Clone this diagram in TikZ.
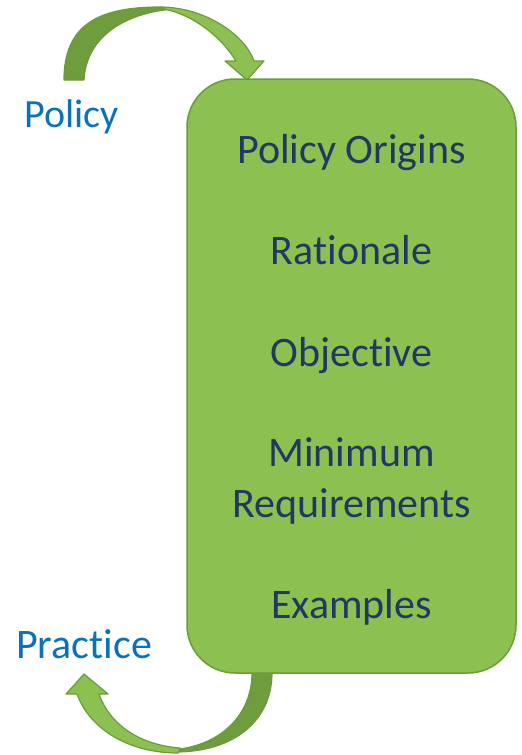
\documentclass[tikz,border=0pt]{standalone}
\usepackage{fontspec}
\setmainfont{Carlito}[Ligatures={NoCommon,NoDiscretionary,NoHistoric,NoRare}]
\definecolor{boxfill}{HTML}{8CC152}
\definecolor{boxline}{HTML}{6B9B3A}
\definecolor{darkband}{HTML}{6F9C3D}
\definecolor{navy}{HTML}{1F3864}
\definecolor{labelblue}{HTML}{0A72B6}
\tikzset{
  item/.style={anchor=base, text=navy, font=\fontsize{42}{50}\selectfont, inner sep=0pt},
  sidelabel/.style={anchor=base west, text=labelblue, inner sep=0pt},
  bandback/.style={fill=darkband, draw=boxline, line width=1.2pt, line join=round},
  bandfront/.style={fill=boxfill, draw=boxline, line width=1.2pt, line join=round},
  mainbox/.style={fill=boxfill, draw=boxline, line width=1.5pt, rounded corners=48pt,
    minimum width=329pt, minimum height=594pt, inner sep=0pt}
}
\begin{document}
\begin{tikzpicture}[x=1pt,y=-1pt]
\useasboundingbox (0,0) rectangle (522,755);
% top curved arrow
\draw[bandback] (64,80) .. controls (64,25) and (98,7) .. (160,7) -- (168,9.5)
  .. controls (120,15) and (86,40) .. (84,80) -- cycle;
\draw[bandfront] (160,7) .. controls (205,7) and (245,35) .. (254,61) -- (264,61) -- (247,80)
  -- (225,61) -- (236,61) .. controls (220,35) and (192,15) .. (166,9.5) -- cycle;
% bottom curved arrow
\draw[bandback] (272,668) -- (272,673) .. controls (272,720) and (235,752) .. (175,752)
  -- (168,750) .. controls (220,748) and (252,715) .. (252,673) -- (252,668) -- cycle;
\draw[bandfront] (178,753) .. controls (130,753) and (90,730) .. (77,694) -- (66,694) -- (84,674)
  -- (108,694) -- (99,694) .. controls (110,725) and (140,745) .. (180,748) -- cycle;
% main box
\node[mainbox] (box) at (351.5,376) {};
\node[item] (t1) at (351.5,163) {Policy Origins};
\node[item] (t2) at (351.5,264) {Rationale};
\node[item] (t3) at (351.5,366) {Objective};
\node[item] (t4) at (351.5,466) {Minimum};
\node[item] (t5) at (351.5,517) {Requirements};
\node[item] (t6) at (351.5,618) {Examples};
% side labels
\node[sidelabel, font=\fontsize{40}{48}\selectfont] (policy) at (24,127) {Policy};
\node[sidelabel, font=\fontsize{42}{50}\selectfont] (practice) at (16,658) {Practice};
\end{tikzpicture}
\end{document}
